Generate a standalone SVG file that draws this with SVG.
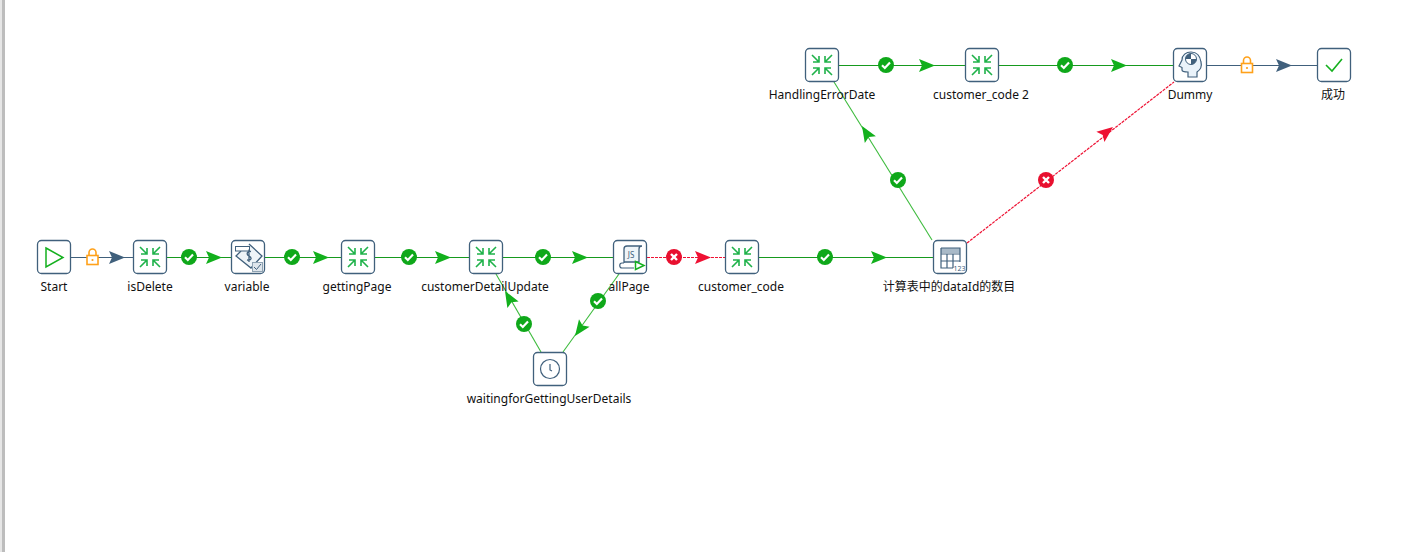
<svg xmlns="http://www.w3.org/2000/svg" width="1414" height="552" viewBox="0 0 1414 552">
<style>
text{font-family:"Noto Sans","Noto Sans CJK SC",sans-serif;font-size:12px;fill:#111;text-anchor:middle}
.box{fill:#fff;stroke:#40607c;stroke-width:1.3}
.g{stroke:#169a1e;stroke-width:1;fill:none}
.lg{stroke:#3dbb3d;stroke-width:1.1;fill:none}
.n{stroke:#40607c;stroke-width:1;fill:none}
.r{stroke:#ee1133;stroke-width:1.2;stroke-dasharray:3 1;fill:none}
.k{stroke:#40607c;stroke-width:1;stroke-dasharray:2 2;fill:none}
.ah-g{fill:#12b01c}.ah-r{fill:#ee1133}.ah-n{fill:#40607c}
.ic{stroke:#1fb24a;stroke-width:1.6;fill:none}
.ip{stroke:#40607c;stroke-width:1.2;fill:none}
</style>
<defs>
<g id="ok"><circle r="8" fill="#0fa81a"/><path d="M-4 0.3L-1.2 3L4 -2.4" fill="none" stroke="#fff" stroke-width="2.2"/></g>
<g id="err"><circle r="8" fill="#e8102f"/><path d="M-3 -3L3 3M3 -3L-3 3" fill="none" stroke="#fff" stroke-width="2.4"/></g>
<g id="lock"><path d="M-3.500 -1.500V-4.500a3.500 3.500 0 0 1 7 0V-1.500" fill="none" stroke="#ffa11a" stroke-width="1.600"/><rect x="-5.500" y="-1.500" width="11" height="9" fill="#fff" stroke="#ffa11a" stroke-width="1.600"/><circle cy="3" r="1.100" fill="#ffa11a"/></g>
<path id="arr" d="M-16 -6.500L0 0L-16 6.500L-13 0Z"/>
<g id="merge"><path class="ic" d="M-10 -10L-3 -3M-3 -9V-3H-9M10 -10L3 -3M3 -9V-3H9M-10 10L-3 3M-3 9V3H-9M10 10L3 3M3 9V3H9"/></g>
</defs>
<rect width="1414" height="552" fill="#fff"/>
<rect x="0" y="0" width="2" height="552" fill="#e6e6e6"/>
<rect x="2" y="0" width="3" height="552" fill="#bdbdbd"/>
<g id="connectors">
<path class="n" d="M71 257.500H133"/><use href="#arr" x="125" y="257.500" class="ah-n"/>
<path class="g" d="M167 257.500H231"/><use href="#arr" x="222" y="257.500" class="ah-g"/>
<path class="g" d="M265 257.500H341"/><use href="#arr" x="329" y="257.500" class="ah-g"/>
<path class="g" d="M375 257.500H469"/><use href="#arr" x="451" y="257.500" class="ah-g"/>
<path class="g" d="M503 257.500H613"/><use href="#arr" x="588" y="257.500" class="ah-g"/>
<path class="k" d="M647 257.500H725"/><path class="r" d="M647 257.500H725"/><use href="#arr" x="711" y="257.500" class="ah-r"/>
<path class="g" d="M759 257.500H933"/><use href="#arr" x="887" y="257.500" class="ah-g"/>
<path class="lg" d="M541 352L496 274"/><use href="#arr" transform="translate(505 291) rotate(-120)" class="ah-g"/>
<path class="lg" d="M619 274L563 352"/><use href="#arr" transform="translate(575 336) rotate(125.500)" class="ah-g"/>
<path class="lg" d="M932 240L834 82"/><use href="#arr" transform="translate(862 126) rotate(-121.500)" class="ah-g"/>
<path class="r" d="M967 243L1174 82"/><use href="#arr" transform="translate(1113 127) rotate(-38)" class="ah-r"/>
<path class="g" d="M839 65.500H965"/><use href="#arr" x="935" y="65.500" class="ah-g"/>
<path class="g" d="M999 65.500H1173"/><use href="#arr" x="1127" y="65.500" class="ah-g"/>
<path class="n" d="M1207 65.500H1317"/><use href="#arr" x="1292" y="65.500" class="ah-n"/>
<use href="#lock" x="92.500" y="257"/>
<use href="#ok" x="189" y="257"/>
<use href="#ok" x="292" y="257"/>
<use href="#ok" x="409" y="257"/>
<use href="#ok" x="543" y="257"/>
<use href="#err" x="674" y="257"/>
<use href="#ok" x="825" y="257"/>
<use href="#ok" x="524" y="324"/>
<use href="#ok" x="598" y="301"/>
<use href="#ok" x="898" y="180"/>
<use href="#err" x="1046" y="180"/>
<use href="#ok" x="886" y="65"/>
<use href="#ok" x="1065" y="65"/>
<use href="#lock" x="1247" y="65"/>
</g>
<g id="node-start"><rect class="box" x="37.500" y="240.500" width="33" height="33" rx="4"/><path d="M46 248L63 257.500L46 267Z" fill="none" stroke="#15b01f" stroke-width="1.500"/><text x="54" y="291">Start</text></g>
<g id="node-isDelete"><rect class="box" x="133.500" y="240.500" width="33" height="33" rx="4"/><use href="#merge" x="150" y="257"/><text x="150" y="291">isDelete</text></g>
<g id="node-variable"><rect class="box" x="231.500" y="240.500" width="33" height="33" rx="4"/><path d="M249 244L262 256L251 268L236 256L241 251" fill="#eef4f8" stroke="#40607c" stroke-width="1.300"/><rect x="235.500" y="246.500" width="14" height="4.500" fill="#fff" stroke="#40607c"/><path d="M251 251.500c-4-1-5 3-2 4.500s3 5-2 4M249 249.500V262" fill="none" stroke="#40607c" stroke-width="1.300"/><rect x="252.500" y="262.500" width="10" height="9" fill="#dfe6ec" stroke="#8fa3b3"/><path d="M254 267L256.500 269.500L261 264" fill="none" stroke="#40607c"/><text x="247" y="291">variable</text></g>
<g id="node-gettingPage"><rect class="box" x="341.500" y="240.500" width="33" height="33" rx="4"/><use href="#merge" x="358" y="257"/><text x="357" y="291">gettingPage</text></g>
<g id="node-customerDetailUpdate"><rect class="box" x="469.500" y="240.500" width="33" height="33" rx="4"/><use href="#merge" x="486" y="257"/><text x="485" y="291">customerDetailUpdate</text></g>
<g id="node-allPage"><rect class="box" x="613.500" y="240.500" width="33" height="33" rx="4"/><path d="M624 263V249c0-2 1-3 3-3H642c-2 0-3 1-3 3V262H624" fill="#eef4f8" stroke="#40607c" stroke-width="1.300"/><path class="ip" d="M624 263H622c-3 0-3 5 0 5H634"/><path d="M635.500 261.500L644 265.500L635.500 269.500Z" fill="#fff" stroke="#15b01f" stroke-width="1.500"/><text x="631" y="258" style="font-size:8px;fill:#40607c">JS</text><text x="629" y="291">allPage</text></g>
<g id="node-customer_code"><rect class="box" x="725.500" y="240.500" width="33" height="33" rx="4"/><use href="#merge" x="742" y="257"/><text x="741" y="291">customer_code</text></g>
<g id="node-count"><rect class="box" x="933.500" y="240.500" width="33" height="33" rx="4"/><path d="M941 248H960V253H941Z" fill="#a9bac8"/><path class="ip" d="M941 248H960V262M941 248V268H953M941 254H960M947 254V268M953 254V268M941 261H960"/><text x="959.500" y="271" style="font-size:7px;fill:#40607c">123</text><text x="949" y="291">计算表中的dataId的数目</text></g>
<g id="node-waiting"><rect class="box" x="533.500" y="352.500" width="33" height="33" rx="4"/><circle class="ip" cx="550" cy="369" r="9.500"/><path class="ip" d="M550 364V370L552 371"/><text x="549" y="403">waitingforGettingUserDetails</text></g>
<g id="node-HandlingErrorDate"><rect class="box" x="805.500" y="48.500" width="33" height="33" rx="4"/><use href="#merge" x="822" y="65"/><text x="822" y="99">HandlingErrorDate</text></g>
<g id="node-customer_code2"><rect class="box" x="965.500" y="48.500" width="33" height="33" rx="4"/><use href="#merge" x="982" y="65"/><text x="981" y="99">customer_code 2</text></g>
<g id="node-dummy"><rect class="box" x="1173.500" y="48.500" width="33" height="33" rx="4"/><path d="M1197 77V72C1200 70 1202 66 1201 62C1200 55 1196 52 1191 52C1186 52 1182 55 1182 60L1179 66L1182 67.500V70C1182 72 1185 72 1188 72V77Z" fill="#eaf3fa" stroke="#40607c" stroke-width="1.200"/><circle cx="1191" cy="59" r="5.500" fill="#fff" stroke="#40607c"/><path d="M1191 59V53.500A5.500 5.500 0 0 0 1185.500 59ZM1191 59V64.500A5.500 5.500 0 0 0 1196.500 59Z" fill="#40607c"/><text x="1190" y="99">Dummy</text></g>
<g id="node-success"><rect class="box" x="1317.500" y="48.500" width="33" height="33" rx="4"/><path d="M1326 65L1332 71L1342 59" fill="none" stroke="#15b01f" stroke-width="1.600"/><text x="1333" y="99">成功</text></g>
</svg>
